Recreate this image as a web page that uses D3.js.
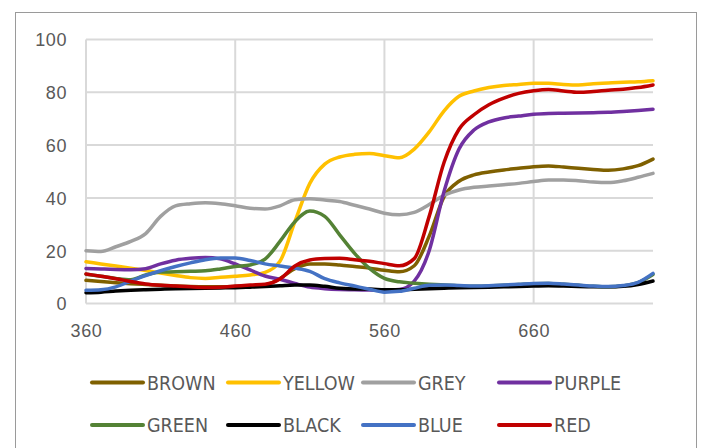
<!DOCTYPE html>
<html>
<head>
<meta charset="utf-8">
<script src="https://cdn.jsdelivr.net/npm/d3@7"></script>
<style>
  html, body { margin: 0; padding: 0; background: #fff; }
  svg { display: block; }
  .tick-label { font-family: "Liberation Sans", Arial, sans-serif; font-size: 18px; fill: #595959; letter-spacing: 0.6px; }
  .legend-label { font-family: "DejaVu Sans Condensed", "Liberation Sans Narrow", "DejaVu Sans", sans-serif; font-stretch: condensed; font-size: 19.5px; fill: #595959; }
</style>
</head>
<body>
<svg id="chart" width="705" height="448"></svg>
<script>
// Wavelength samples (nm)
const wavelengths = [360,370,380,390,400,410,420,430,440,450,460,470,480,490,500,510,520,530,540,550,
                     560,570,580,590,600,610,620,630,640,650,660,670,680,690,700,710,720,730,740];

// Reflectance (%) for each colour sample
const brown  = [8.8,8.3,7.9,7.5,7.2,6.9,6.6,6.4,6.3,6.3,6.4,6.6,7.0,9.5,13.2,15.0,15.0,14.6,14.0,13.4,
                12.6,12.0,14.3,25.5,40.5,46.3,48.7,49.8,50.6,51.2,51.8,52.1,51.7,51.2,50.8,50.5,51.0,52.2,54.7];
const yellow = [15.8,15.0,14.2,13.4,12.5,11.5,10.6,9.8,9.5,9.9,10.3,10.8,11.8,16.0,31.0,45.5,52.8,55.5,56.5,56.8,
                56.0,55.2,58.5,65.0,73.0,78.5,80.5,81.8,82.6,83.0,83.4,83.4,83.0,82.8,83.2,83.5,83.8,84.0,84.4];
const grey   = [20.0,19.7,21.5,23.5,26.5,33.0,37.0,37.8,38.2,37.8,37.0,36.1,35.8,37.0,39.3,39.7,39.2,38.6,37.2,35.8,
                34.2,33.6,34.5,37.5,41.0,43.0,44.0,44.5,45.0,45.5,46.2,46.8,46.8,46.5,46.0,45.8,46.5,47.8,49.3];
const purple = [13.3,13.1,12.9,12.8,13.2,15.0,16.4,17.1,17.4,16.9,15.0,12.7,10.4,9.2,7.6,6.2,5.6,5.3,5.2,5.1,
                5.0,5.3,8.5,20.0,42.5,58.5,65.7,68.8,70.3,71.0,71.7,72.0,72.1,72.2,72.3,72.4,72.7,73.1,73.6];
const green  = [11.1,10.3,9.5,9.0,10.8,11.9,12.0,12.2,12.4,13.1,14.0,14.6,16.8,23.5,31.0,35.0,33.0,26.0,19.0,13.3,
                9.5,8.2,7.7,7.3,7.0,6.7,6.5,6.6,6.9,7.2,7.5,7.6,7.3,6.9,6.5,6.3,6.7,7.9,11.0];
const black  = [4.1,4.3,4.7,5.0,5.2,5.4,5.6,5.7,5.8,5.9,6.0,6.2,6.4,6.7,7.0,7.0,6.5,5.8,5.5,5.5,
                5.2,5.2,5.4,5.6,5.8,6.0,6.1,6.2,6.3,6.4,6.6,6.7,6.6,6.4,6.3,6.3,6.5,7.2,8.5];
const blue   = [5.0,5.2,6.3,8.5,10.6,12.4,14.0,15.4,16.6,17.2,17.2,16.3,15.0,14.2,13.4,12.2,9.4,7.8,6.6,5.4,
                4.3,4.6,5.8,6.9,7.0,6.8,6.6,6.7,7.0,7.3,7.6,7.7,7.4,7.0,6.6,6.4,6.8,8.0,11.4];
const red    = [11.2,10.3,9.4,8.3,7.4,6.9,6.6,6.3,6.1,6.2,6.6,7.0,7.3,9.3,14.2,16.5,17.0,17.1,16.6,16.0,
                15.1,14.3,17.0,33.0,53.5,66.0,71.5,75.3,77.8,79.6,80.6,81.1,80.5,80.0,80.3,80.8,81.2,81.8,82.8];

const seriesNames  = ["BROWN","YELLOW","GREY","PURPLE","GREEN","BLACK","BLUE","RED"];
const seriesValues = [brown, yellow, grey, purple, green, black, blue, red];
const seriesColors = ["#7F6000","#FFC000","#A0A0A0","#7030A0","#548235","#000000","#4472C4","#C00000"];

const xTicks = [360, 460, 560, 660];
const yTicks = [0, 20, 40, 60, 80, 100];

const svg = d3.select("#chart");

// outer chart frame
svg.append("rect")
  .attr("x", 15.5).attr("y", 12.5)
  .attr("width", 681).attr("height", 450)
  .attr("fill", "#fff").attr("stroke", "#9a9a9a").attr("stroke-width", 1);

const plot = { left: 86, right: 653, top: 39.5, bottom: 303.5 };
const x = d3.scaleLinear().domain([360, 740]).range([plot.left, plot.right]);
const y = d3.scaleLinear().domain([0, 100]).range([plot.bottom, plot.top]);

// gridlines
const grid = svg.append("g");
grid.selectAll("line.h").data(yTicks).join("line")
  .attr("x1", plot.left).attr("x2", plot.right)
  .attr("y1", d => y(d)).attr("y2", d => y(d))
  .attr("stroke", "#d9d9d9").attr("stroke-width", 2);
grid.selectAll("line.v").data(xTicks).join("line")
  .attr("y1", plot.top).attr("y2", plot.bottom)
  .attr("x1", d => x(d)).attr("x2", d => x(d))
  .attr("stroke", "#d9d9d9").attr("stroke-width", 2);

// axes (labels only, lines come from the grid)
const yAxis = svg.append("g").attr("transform", `translate(${plot.left},0)`)
  .call(d3.axisLeft(y).tickValues(yTicks).tickSize(0).tickPadding(19));
const xAxis = svg.append("g").attr("transform", `translate(0,${plot.bottom})`)
  .call(d3.axisBottom(x).tickValues(xTicks).tickSize(0).tickPadding(21));
[yAxis, xAxis].forEach(a => {
  a.select(".domain").remove();
  a.selectAll("text").attr("class", "tick-label").attr("font-family", null).attr("font-size", null);
});
yAxis.selectAll("text").attr("dy", "0.36em");

// series lines
const line = d3.line()
  .x((d, i) => x(wavelengths[i]))
  .y(d => y(d))
  .curve(d3.curveMonotoneX);

svg.append("g").selectAll("path").data(seriesValues).join("path")
  .attr("d", d => line(d))
  .attr("fill", "none")
  .attr("stroke", (d, i) => seriesColors[i])
  .attr("stroke-width", 3.5)
  .attr("stroke-linejoin", "round")
  .attr("stroke-linecap", "round");

// legend: two rows of four
const legCols = [92, 228, 363, 499];
const legRows = [382.5, 425];
const legend = svg.append("g");
seriesNames.forEach((name, i) => {
  const cx = legCols[i % 4], cy = legRows[Math.floor(i / 4)];
  const g = legend.append("g").attr("transform", `translate(${cx},${cy})`);
  g.append("line").attr("x1", 0).attr("x2", 51).attr("y1", 0).attr("y2", 0)
    .attr("stroke", seriesColors[i]).attr("stroke-width", 4).attr("stroke-linecap", "round");
  g.append("text").attr("class", "legend-label").attr("x", 55).attr("y", 0).attr("dy", "0.36em").text(name);
});
</script>
</body>
</html>
